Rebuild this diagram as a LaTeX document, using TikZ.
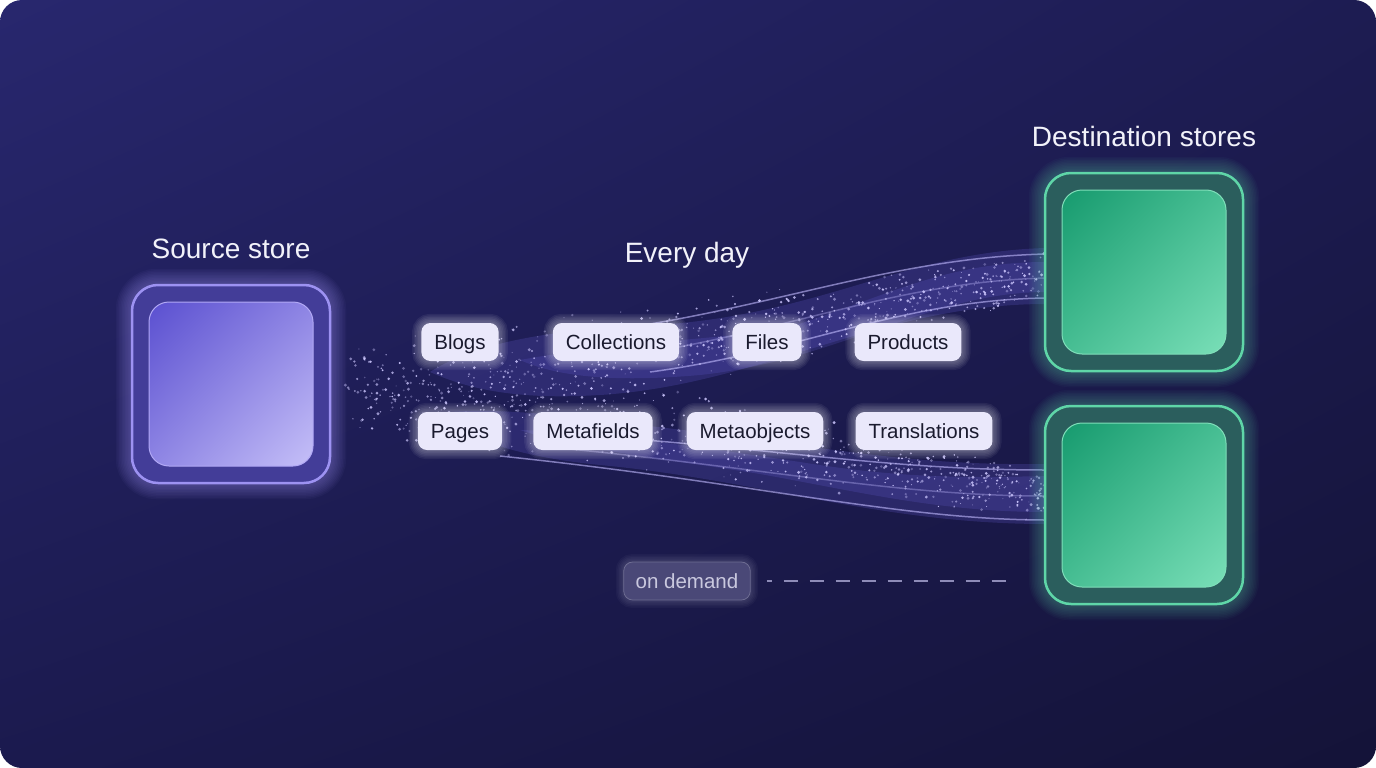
\documentclass[tikz,border=0pt]{standalone}
\usepackage{fontspec}
\setmainfont{Liberation Sans}
\usetikzlibrary{shadings}
\pgfdeclarelayer{bg}
\pgfdeclarelayer{glow}
\pgfsetlayers{bg,glow,main}
\definecolor{bgTL}{HTML}{28276E}
\definecolor{bgTR}{HTML}{1D1C52}
\definecolor{bgBL}{HTML}{1B1A4E}
\definecolor{bgBR}{HTML}{141338}
\definecolor{srcStroke}{HTML}{9D92F2}
\definecolor{srcRing}{HTML}{433D98}
\definecolor{srcA}{HTML}{5A4FD0}
\definecolor{srcB}{HTML}{C6C0F8}
\definecolor{srcMid}{HTML}{8E85E4}
\definecolor{dstStroke}{HTML}{5FD6A8}
\definecolor{dstRing}{HTML}{2B5E5D}
\definecolor{dstA}{HTML}{169A6E}
\definecolor{dstB}{HTML}{7ADFB8}
\definecolor{dstMid}{HTML}{47BE93}
\definecolor{pillFill}{HTML}{EAE8FB}
\definecolor{pillText}{HTML}{1A1A2E}
\definecolor{odFill}{HTML}{4A4877}
\definecolor{odText}{HTML}{C9C8DE}
\definecolor{dashC}{HTML}{8E8CB8}
\definecolor{band}{HTML}{6F66E6}
\definecolor{streak}{HTML}{C2BBFF}
\definecolor{dotc}{HTML}{CEC8FF}
\definecolor{titleC}{HTML}{F2F2FA}
\tikzset{
  title/.style={text=titleC, font=\fontsize{28}{32}\selectfont, anchor=base, inner sep=0pt},
  pill/.style={fill=pillFill, text=pillText, rounded corners=9pt, minimum height=38pt,
    inner xsep=13pt, text height=16pt, text depth=2pt, font=\fontsize{20.5}{24}\selectfont},
  odpill/.style={fill=odFill, draw=odFill!80!white, line width=0.8pt, text=odText, rounded corners=9pt,
    minimum height=38pt, inner xsep=12pt, text height=16pt, text depth=2pt, font=\fontsize{20.5}{24}\selectfont},
  outerbox/.style={minimum size=198pt, rounded corners=26pt, line width=2.5pt, inner sep=0pt},
  innerbox/.style={minimum size=164pt, rounded corners=20pt, line width=1pt, inner sep=0pt},
  streakline/.style={streak, line width=1.5pt, opacity=0.6},
}
\begin{document}
\begin{tikzpicture}[x=1pt,y=-1pt]
\useasboundingbox (0,0) rectangle (1376,768);
% ---------- nodes ----------
\node[outerbox, draw=srcStroke, fill=srcRing] (src) at (231,384) {};
\node[innerbox, draw=srcStroke!80!white, upper left=srcA, lower right=srcB, upper right=srcMid, lower left=srcMid] (srcIn) at (231,384) {};
\node[outerbox, draw=dstStroke, fill=dstRing] (dst1) at (1144,272) {};
\node[innerbox, draw=dstStroke!80!white, upper left=dstA, lower right=dstB, upper right=dstMid, lower left=dstMid] (dst1In) at (1144,272) {};
\node[outerbox, draw=dstStroke, fill=dstRing] (dst2) at (1144,505) {};
\node[innerbox, draw=dstStroke!80!white, upper left=dstA, lower right=dstB, upper right=dstMid, lower left=dstMid] (dst2In) at (1144,505) {};

\node[title] (srcT) at (231,258) {Source store};
\node[title] (dayT) at (687,262) {Every day};
\node[title] (dstT) at (1144,146) {Destination stores};

\node[pill] (blogs) at (460,342) {Blogs};
\node[pill] (coll) at (616,342) {Collections};
\node[pill] (files) at (767,342) {Files};
\node[pill] (prod) at (908,342) {Products};
\node[pill] (pages) at (460,431) {Pages};
\node[pill] (metaf) at (593,431) {Metafields};
\node[pill] (metao) at (755,431) {Metaobjects};
\node[pill] (trans) at (924,431) {Translations};
\node[odpill] (od) at (687,581) {on demand};
\coordinate (odEnd) at (1008,581);
\draw[dashC, line width=2.5pt, dash pattern=on 5pt off 12pt on 14pt off 12pt on 14pt off 12pt on 14pt off 12pt on 14pt off 12pt on 14pt off 12pt on 14pt off 12pt on 14pt off 12pt on 14pt off 12pt on 14pt off 12pt on 5pt] ([xshift=16pt]od.east) -- (odEnd);

% ---------- background & streams ----------
\begin{pgfonlayer}{bg}
\fill[white] (0,0) rectangle (1376,768);
\shade[rounded corners=22pt, upper left=bgTL, upper right=bgTR, lower left=bgBL, lower right=bgBR] (0,0) rectangle (1376,768);
% bands
\fill[band, opacity=0.2] (430,372) .. controls (480,340) and (560,330) .. (640,326) .. controls (820,318) and (900,252) .. (1046,248) -- (1046,304) .. controls (880,304) and (760,385) .. (600,395) .. controls (520,400) and (470,390) .. (430,372) -- cycle;
\fill[band, opacity=0.18] (520,360) .. controls (600,345) and (720,338) .. (780,330) .. controls (880,300) and (940,262) .. (1046,262) -- (1046,292) .. controls (930,292) and (840,360) .. (700,375) .. controls (620,382) and (560,378) .. (520,360) -- cycle;
\fill[band, opacity=0.2] (430,415) .. controls (480,405) and (560,415) .. (640,425) .. controls (820,445) and (900,466) .. (1046,464) -- (1046,524) .. controls (880,524) and (760,480) .. (600,465) .. controls (520,457) and (470,440) .. (430,415) -- cycle;
\fill[band, opacity=0.18] (520,430) .. controls (600,432) and (720,450) .. (800,462) .. controls (900,478) and (960,478) .. (1046,476) -- (1046,512) .. controls (940,512) and (860,492) .. (760,474) .. controls (660,458) and (580,450) .. (520,430) -- cycle;
% streaks
\draw[streakline] (560,336) .. controls (750,318) and (880,258) .. (1046,254);
\draw[streakline] (650,372) .. controls (800,352) and (900,300) .. (1046,298);
\draw[streakline, opacity=0.35] (600,360) .. controls (780,336) and (890,282) .. (1046,278);
\draw[streakline] (620,438) .. controls (800,452) and (900,470) .. (1046,470);
\draw[streakline] (500,456) .. controls (750,482) and (900,520) .. (1046,520);
\draw[streakline, opacity=0.35] (560,448) .. controls (780,470) and (900,496) .. (1046,496);
% dots
\pgfmathsetseed{7}
\foreach \i in {1,...,800}{
  \pgfmathsetmacro\t{rnd^0.8}
  \pgfmathsetmacro\xx{345+700*\t}
  \pgfmathsetmacro\yc{388-112*\t^1.3}
  \pgfmathsetmacro\w{62-34*\t}
  \pgfmathsetmacro\yy{\yc+(rnd+rnd-1)*\w}
  \pgfmathsetmacro\r{0.5+1.1*rnd}
  \pgfmathsetmacro\o{0.3+0.65*rnd}
  \fill[dotc, opacity=\o] (\xx,\yy) circle[radius=\r pt];
}
\foreach \i in {1,...,800}{
  \pgfmathsetmacro\t{rnd^0.8}
  \pgfmathsetmacro\xx{345+700*\t}
  \pgfmathsetmacro\yc{396+98*\t^1.3}
  \pgfmathsetmacro\w{62-34*\t}
  \pgfmathsetmacro\yy{\yc+(rnd+rnd-1)*\w}
  \pgfmathsetmacro\r{0.5+1.1*rnd}
  \pgfmathsetmacro\o{0.3+0.65*rnd}
  \fill[dotc, opacity=\o] (\xx,\yy) circle[radius=\r pt];
}
\end{pgfonlayer}

% ---------- glows ----------
\begin{pgfonlayer}{glow}
\foreach \k in {1,...,10}{
  \draw[srcStroke, opacity=0.045, line width=3*\k pt, rounded corners=26pt] (src.south west) rectangle (src.north east);
  \draw[dstStroke, opacity=0.035, line width=3*\k pt, rounded corners=26pt] (dst1.south west) rectangle (dst1.north east);
  \draw[dstStroke, opacity=0.035, line width=3*\k pt, rounded corners=26pt] (dst2.south west) rectangle (dst2.north east);
}
\foreach \n in {blogs,coll,files,prod,pages,metaf,metao,trans}{
  \foreach \k in {1,...,6}{
    \draw[white, opacity=0.06, line width=3*\k pt, rounded corners=9pt] (\n.south west) rectangle (\n.north east);
  }
}
\foreach \k in {1,...,5}{
  \draw[odText, opacity=0.04, line width=3*\k pt, rounded corners=9pt] (od.south west) rectangle (od.north east);
}
\end{pgfonlayer}
\end{tikzpicture}
\end{document}
